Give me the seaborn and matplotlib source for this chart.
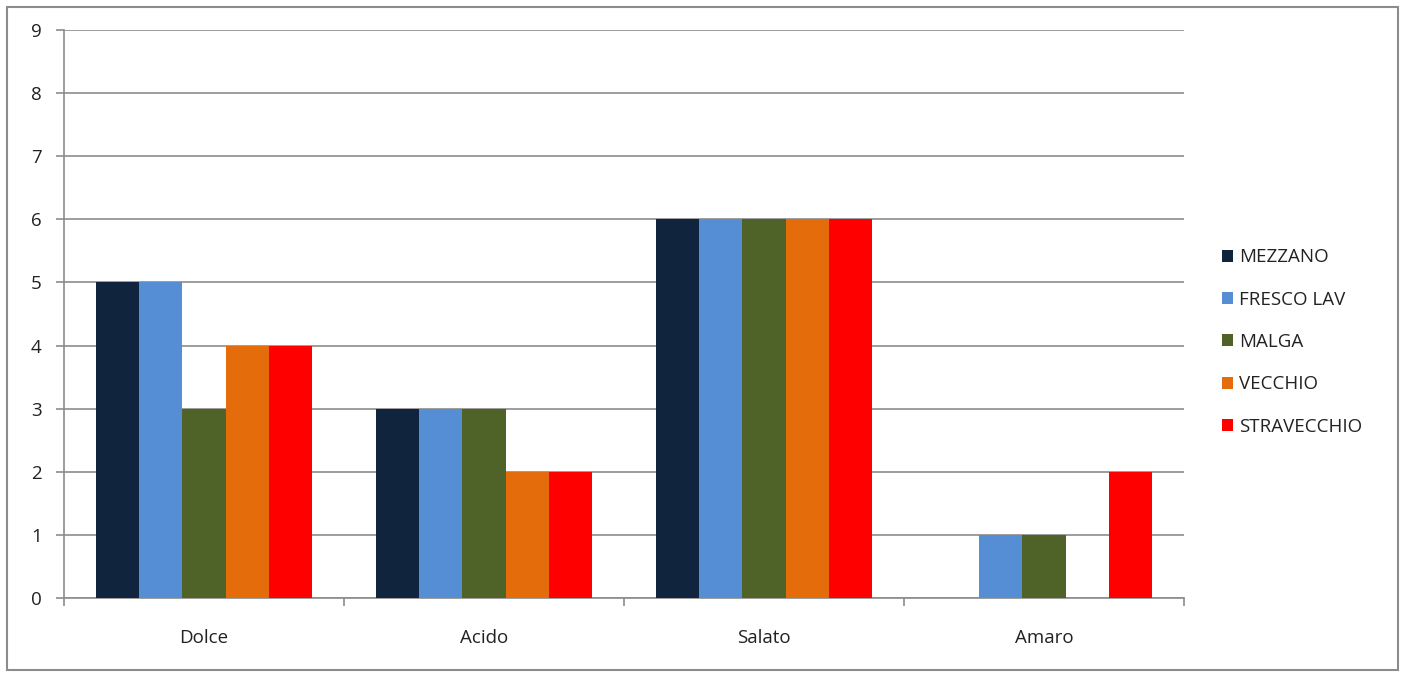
import matplotlib
matplotlib.use("Agg")
import matplotlib.pyplot as plt
from matplotlib.patches import Rectangle
from matplotlib.ticker import FixedLocator
import seaborn as sns
import pandas as pd

# Taste profile scores per cheese type
gusti = ["Dolce", "Acido", "Salato", "Amaro"]
formaggi = ["MEZZANO", "FRESCO LAV", "MALGA", "VECCHIO", "STRAVECCHIO"]
mezzano = [5, 3, 6, 0]
fresco_lav = [5, 3, 6, 1]
malga = [3, 3, 6, 1]
vecchio = [4, 2, 6, 0]
stravecchio = [4, 2, 6, 2]
colori = ["#10243E", "#558ED5", "#4F6228", "#E46C0A", "#FF0000"]
y_ticks = list(range(0, 10))

serie = [mezzano, fresco_lav, malga, vecchio, stravecchio]
df = pd.DataFrame(
    [(g, f, v) for f, vals in zip(formaggi, serie) for g, v in zip(gusti, vals)],
    columns=["Gusto", "Formaggio", "Valore"],
)

sns.set_theme(style="white")
plt.rcParams["font.family"] = ["Open Sans", "DejaVu Sans"]

fig = plt.figure(figsize=(14.05, 6.73), dpi=100)
ax = fig.add_axes([64 / 1405, 75 / 673, 1120 / 1405, 568 / 673])

sns.barplot(
    data=df, x="Gusto", y="Valore", hue="Formaggio", order=gusti,
    hue_order=formaggi, palette=colori, saturation=1, width=0.77,
    dodge=True, ax=ax, zorder=3, linewidth=0, edgecolor="none",
)

grid_col = "#8C8C8C"
text_col = "#222222"
fs = 13.5
ax.set_xlim(-0.5, len(gusti) - 0.5)
ax.set_ylim(0, 9)
ax.set_yticks(y_ticks)
ax.set_yticklabels([str(t) for t in y_ticks], fontsize=fs, color=text_col)
ax.yaxis.grid(True, color=grid_col, linewidth=1.2, zorder=0)
ax.set_axisbelow(True)
ax.set_xlabel("")
ax.set_ylabel("")
ax.tick_params(axis="x", which="major", length=0, pad=22, labelsize=fs,
               labelcolor=text_col)
ax.xaxis.set_minor_locator(FixedLocator([i - 0.5 for i in range(len(gusti) + 1)]))
ax.tick_params(axis="x", which="minor", length=6, width=1.2, color=grid_col,
               direction="out", bottom=True)
ax.tick_params(axis="y", length=6, width=1.2, color=grid_col, left=True,
               direction="out", pad=10)
for s in ["top", "right"]:
    ax.spines[s].set_visible(False)
for s in ["left", "bottom"]:
    ax.spines[s].set_color(grid_col)
    ax.spines[s].set_linewidth(1.2)

leg = ax.legend(
    loc="center left", bbox_to_anchor=(1222 / 1405, (673 - 342) / 673),
    bbox_transform=fig.transFigure, frameon=False, fontsize=fs,
    handlelength=0.6, handleheight=0.6, handletextpad=0.3,
    labelspacing=1.3, borderpad=0, borderaxespad=0, title=None,
)
for t in leg.get_texts():
    t.set_color(text_col)

fig.patches.append(Rectangle((7 / 1405, 3 / 673), 1391 / 1405, 663 / 673,
                             transform=fig.transFigure, fill=False,
                             edgecolor="#8C8C8C", linewidth=1.5))

fig.savefig("out.png", dpi=100, facecolor="white")
